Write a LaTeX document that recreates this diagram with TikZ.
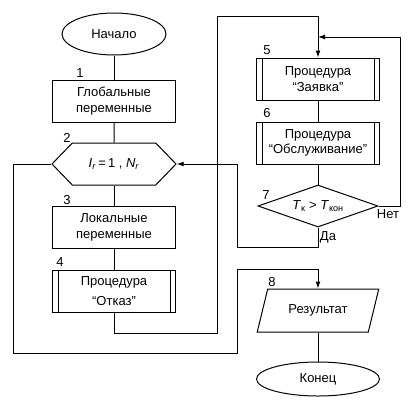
\documentclass[tikz,border=0pt]{standalone}
\usepackage{fontspec}
\setmainfont{Liberation Sans}
\usetikzlibrary{shapes.geometric,shapes.symbols,arrows.meta}

\begin{document}
\begin{tikzpicture}[x=1pt, y=-1pt, line width=1pt,
  every node/.style={font=\fontsize{13}{15.5}\selectfont, align=center, inner sep=1pt},
  terminal/.style={ellipse, draw, minimum width=104pt, minimum height=42pt},
  block/.style={rectangle, draw, minimum width=123pt, minimum height=42pt},
  loophex/.style={signal, signal to=west and east, signal pointer angle=92, draw,
    minimum width=124pt, minimum height=42pt},
  decision/.style={diamond, draw, aspect=2.9, inner sep=0pt,
    minimum width=120pt, minimum height=42pt},
  iobox/.style={trapezium, trapezium left angle=65, trapezium right angle=115,
    trapezium stretches=true, draw, minimum width=122pt, minimum height=43pt},
  flow/.style={-{Latex[length=7pt,width=5pt]}}]
\useasboundingbox (0,0) rectangle (409,405);
%%%%%%%%%%%%%%%%%%%%%%%%%%%%%%% left column
\node[terminal](nStart) at (114,34){Начало};
\node(lbl1) at (80,73){1};
\node[block](bGlobal) at (114,101){Глобальные\\переменные};
\node(lbl2) at (67,138){2};
\node[loophex](hLoop) at (114,164){\textit{I}\textsubscript{\textit{r}}\,=\,1 , \textit{N}\textsubscript{\textit{r}}};
\node(lbl3) at (67,200){3};
\node[block](bLocal) at (114,227.5){Локальные\\переменные};
\node(lbl4) at (60,262){4};
\node[block](pRefuse) at (114,291){Процедура\\[5pt]“Отказ”};
%%%%%%%%%%%%%%%%%%%%%%%%%%%%%%% right column
\node(lbl5) at (267,50){5};
\node[block](pRequest) at (318,79){Процедура\\“Заявка”};
\node(lbl6) at (267,113){6};
\node[block](pService) at (318,143){Процедура\\“Обслуживание”};
\node(lbl7) at (266,195){7};
\node[decision](dTime) at (318,206){\textit{T}\textsubscript{к} > \textit{T}\textsubscript{кон}};
\node(lblNo) at (388,214){Нет};
\node(lblYes) at (328,237){Да};
\node(lbl8) at (272,282){8};
\node[iobox](ioResult) at (318,310.5){Результат};
\node[terminal, minimum width=123pt, minimum height=34pt](nFinish) at (318,379){Конец};
% side bars of the procedure blocks
\foreach \p in {pRefuse, pRequest, pService}{
  \draw ([xshift=6pt]\p.north west) -- ([xshift=6pt]\p.south west);
  \draw ([xshift=-6pt]\p.north east) -- ([xshift=-6pt]\p.south east);
}
%%%%%%%%%%%%%%%%%%%%%%%%%%%%%%% connectors
\coordinate (jumpBottom) at (217,333);
\coordinate (jumpTop) at (217,16);
\coordinate (retRight) at (400,37);
\coordinate (retJoin) at (318,37);
\coordinate (yesLeft) at (237,247);
\coordinate (exitLeft) at (13,353);
\coordinate (exitUp) at (237,269);
\draw (nStart) -- (bGlobal);
\draw (bGlobal) -- (hLoop);
\draw (hLoop) -- (bLocal);
\draw (bLocal) -- (pRefuse);
\draw[flow] (pRefuse.south) |- (jumpBottom) -- (jumpTop) -| (pRequest.north);
\draw (pRequest) -- (pService);
\draw (pService) -- (dTime);
\draw[flow] (dTime.east) -| (retRight) -- (retJoin);
\draw[flow] (dTime.south) |- (yesLeft) |- (hLoop.east);
\draw[flow] (hLoop.west) -| (exitLeft) -| (exitUp) -| (ioResult.north);
\draw (ioResult) -- (nFinish);
\end{tikzpicture}
\end{document}
